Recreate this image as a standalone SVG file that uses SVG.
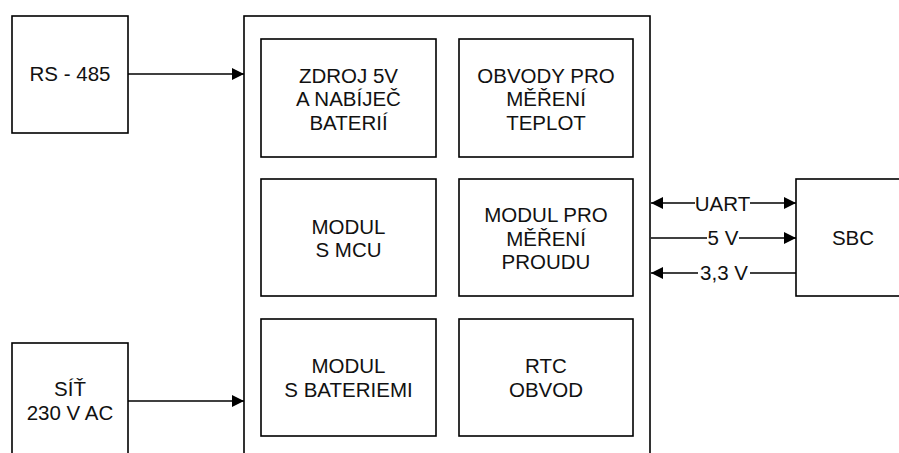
<svg xmlns="http://www.w3.org/2000/svg" width="899" height="453" viewBox="0 0 899 453">
  <style>
    .box { fill: #ffffff; stroke: #000000; stroke-width: 1.6; }
    .lbl { font-family: "Liberation Sans", Arial, sans-serif; font-size: 20.5px; fill: #111111; text-anchor: middle; }
    .wire { fill: none; stroke: #000000; stroke-width: 1.6; }
    .tag { font-family: "Liberation Sans", Arial, sans-serif; font-size: 20.5px; fill: #111111; text-anchor: middle; }
    .tagbg { fill: #ffffff; }
  </style>
  <defs>
    <marker id="arrowEnd" markerUnits="userSpaceOnUse" markerWidth="12" markerHeight="12" refX="12" refY="6" orient="auto">
      <path d="M0,0 L12,6 L0,12 Z" fill="#000000"/>
    </marker>
    <marker id="arrowStart" markerUnits="userSpaceOnUse" markerWidth="12" markerHeight="12" refX="0" refY="6" orient="auto">
      <path d="M12,0 L0,6 L12,12 Z" fill="#000000"/>
    </marker>
  </defs>

  <rect width="899" height="453" fill="#ffffff"/>

  <!-- main unit enclosure -->
  <g id="main-unit">
    <rect class="box" x="244" y="16" width="406" height="460"/>
  </g>

  <g id="rs485">
    <rect class="box" x="12" y="16" width="116" height="117"/>
    <text class="lbl" x="70" y="81">RS - 485</text>
  </g>

  <g id="sit">
    <rect class="box" x="12" y="343" width="116" height="130"/>
    <text class="lbl" x="70" y="396">SÍŤ</text>
    <text class="lbl" x="70" y="419.5">230 V AC</text>
  </g>

  <g id="sbc">
    <rect class="box" x="796" y="179" width="114" height="117"/>
    <text class="lbl" x="853" y="245">SBC</text>
  </g>

  <g id="zdroj">
    <rect class="box" x="261" y="39" width="175" height="118"/>
    <text class="lbl" x="348.5" y="82.5">ZDROJ 5V</text>
    <text class="lbl" x="348.5" y="106">A NABÍJEČ</text>
    <text class="lbl" x="348.5" y="129.5">BATERIÍ</text>
  </g>

  <g id="teplota">
    <rect class="box" x="459" y="39" width="174" height="118"/>
    <text class="lbl" x="546" y="82.5">OBVODY PRO</text>
    <text class="lbl" x="546" y="106">MĚŘENÍ</text>
    <text class="lbl" x="546" y="129.5">TEPLOT</text>
  </g>

  <g id="mcu">
    <rect class="box" x="261" y="179" width="175" height="117"/>
    <text class="lbl" x="348.5" y="233.5">MODUL</text>
    <text class="lbl" x="348.5" y="257">S MCU</text>
  </g>

  <g id="proud">
    <rect class="box" x="459" y="179" width="174" height="117"/>
    <text class="lbl" x="546" y="222">MODUL PRO</text>
    <text class="lbl" x="546" y="245.5">MĚŘENÍ</text>
    <text class="lbl" x="546" y="269">PROUDU</text>
  </g>

  <g id="baterie">
    <rect class="box" x="261" y="319" width="175" height="117"/>
    <text class="lbl" x="348.5" y="373">MODUL</text>
    <text class="lbl" x="348.5" y="396.5">S BATERIEMI</text>
  </g>

  <g id="rtc">
    <rect class="box" x="459" y="319" width="174" height="117"/>
    <text class="lbl" x="546" y="373">RTC</text>
    <text class="lbl" x="546" y="396.5">OBVOD</text>
  </g>

  <!-- connectors -->
  <g id="connectors">
    <line class="wire" x1="128" y1="74" x2="244" y2="74" marker-end="url(#arrowEnd)"/>
    <line class="wire" x1="128" y1="401" x2="244" y2="401" marker-end="url(#arrowEnd)"/>

    <line class="wire" x1="651" y1="203" x2="796" y2="203" marker-start="url(#arrowStart)" marker-end="url(#arrowEnd)"/>
    <rect class="tagbg" x="695" y="192" width="55" height="22"/>
    <text class="tag" x="722.5" y="210.5">UART</text>

    <line class="wire" x1="651" y1="238" x2="796" y2="238" marker-end="url(#arrowEnd)"/>
    <rect class="tagbg" x="707" y="227" width="32" height="22"/>
    <text class="tag" x="723" y="245">5 V</text>

    <line class="wire" x1="651" y1="273" x2="796" y2="273" marker-start="url(#arrowStart)"/>
    <rect class="tagbg" x="698" y="262" width="52" height="22"/>
    <text class="tag" x="724" y="280">3,3 V</text>
  </g>
</svg>
